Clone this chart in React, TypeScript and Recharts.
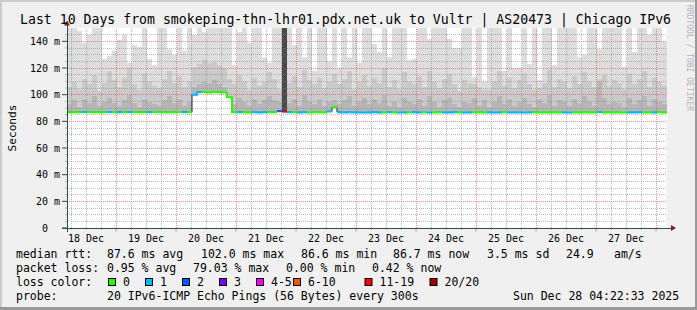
import React from 'react';
import { ComposedChart, Area, Line, XAxis, YAxis, ReferenceLine, ReferenceDot } from 'recharts';

const FONT = '"DejaVu Sans Mono", monospace';

// window starts Dec 18 04:22:33, x is hours since then
const START_HOUR = 4 + 22.55 / 60;
const BUCKET_HOURS = 2;
const SPAN_HOURS = 240;

const DAY_LABELS = ['18 Dec', '19 Dec', '20 Dec', '21 Dec', '22 Dec', '23 Dec', '24 Dec', '25 Dec', '26 Dec', '27 Dec'];
const Y_TICKS = [0, 20, 40, 60, 80, 100, 120, 140];

// median rtt per 2h bucket (ms)
const MEDIAN = [
  86.9, 86.8, 86.9, 87.0, 86.9, 86.8, 86.9, 86.9, 87.0, 86.8,
  86.9, 86.9, 87.0, 86.8, 86.9, 86.9, 86.8, 87.0, 86.9, 86.9,
  86.8, 86.9, 87.0, 86.9, 86.8, 100.0, 101.8, 102.0, 101.7, 102.0,
  101.9, 101.6, 98.0, 86.8, 86.9, 86.8, 86.7, 86.8, 86.7, 86.8,
  86.9, 86.8, 87.6, 87.3, 86.9, 86.8, 86.7, 86.8, 86.7, 86.8,
  86.8, 86.7, 87.4, 90.5, 86.9, 86.7, 86.8, 86.7, 86.7, 86.6,
  86.7, 86.8, 86.7, 86.7, 86.8, 86.7, 86.6, 86.7, 86.7, 86.8,
  86.7, 86.7, 86.6, 86.7, 86.8, 86.7, 86.7, 86.8, 86.7, 86.6,
  86.7, 86.7, 86.8, 86.7, 86.7, 86.6, 86.7, 86.8, 86.7, 86.7,
  86.7, 86.6, 86.7, 86.8, 86.7, 86.7, 86.7, 86.8, 86.7, 86.7,
  86.6, 86.7, 86.7, 86.8, 86.7, 86.7, 87.0, 86.7, 86.8, 86.7,
  86.7, 86.6, 86.7, 86.7, 86.8, 86.7, 86.7, 86.7, 86.8, 86.7,
];

// loss class index per bucket (see LOSS_LABELS)
const LOSS = [
  0, 0, 0, 1, 0, 0, 0, 0, 1, 0,
  1, 0, 1, 0, 0, 0, 1, 0, 0, 0,
  0, 0, 0, 1, 0, 1, 1, 0, 0, 0,
  0, 0, 0, 0, 1, 0, 0, 1, 1, 1,
  0, 0, 2, 6, 1, 0, 1, 1, 0, 0,
  0, 0, 1, 0, 1, 1, 1, 1, 1, 1,
  1, 1, 1, 0, 1, 0, 1, 1, 0, 1,
  1, 0, 1, 0, 0, 1, 1, 1, 0, 1,
  1, 0, 0, 0, 1, 1, 1, 0, 1, 1,
  1, 1, 1, 0, 0, 0, 0, 0, 0, 1,
  1, 0, 0, 0, 0, 0, 1, 0, 0, 0,
  0, 0, 1, 1, 1, 0, 0, 1, 0, 0,
];

// smoke levels (ms): dark band, mid band, lightest band (max ping)
const SMOKE_DARK = [
  93, 96, 91, 97, 94, 99, 92, 95, 98, 94,
  92, 96, 100, 94, 91, 97, 95, 93, 92, 96,
  99, 94, 97, 92, 95, 106, 108, 110, 109, 111,
  108, 106, 97, 93, 98, 95, 92, 97, 93, 96,
  99, 96, 95, 150, 94, 97, 92, 100, 95, 93,
  97, 92, 95, 96, 93, 96, 99, 92, 95, 98,
  93, 97, 94, 100, 92, 95, 91, 98, 95, 93,
  97, 92, 99, 95, 91, 96, 98, 93, 91, 95,
  94, 98, 92, 96, 91, 95, 99, 93, 97, 92,
  95, 98, 93, 91, 97, 94, 100, 92, 96, 95,
  92, 97, 94, 99, 95, 92, 110, 98, 93, 95,
  94, 91, 98, 93, 96, 99, 92, 97, 95, 93,
];

const SMOKE_MID = [
  106, 110, 104, 112, 108, 115, 103, 109, 118, 111,
  106, 113, 120, 108, 104, 116, 110, 107, 105, 112,
  118, 109, 114, 106, 110, 121, 123, 126, 124, 125,
  122, 120, 112, 108, 115, 110, 104, 113, 107, 110,
  117, 112, 104, 150, 109, 114, 106, 119, 111, 108,
  113, 105, 110, 116, 108, 112, 118, 104, 110, 115,
  107, 113, 109, 120, 106, 111, 104, 117, 110, 108,
  114, 106, 118, 110, 105, 112, 116, 108, 103, 111,
  109, 108, 106, 104, 104, 110, 118, 107, 113, 105,
  111, 116, 108, 104, 105, 109, 119, 106, 112, 110,
  105, 114, 108, 117, 110, 106, 112, 115, 107, 111,
  109, 104, 116, 108, 112, 118, 106, 113, 110, 107,
];

const SMOKE_TOP = [
  150, 150, 148, 139, 145, 150, 150, 127, 129, 133,
  141, 145, 124, 137, 136, 150, 127, 122, 150, 150,
  134, 130, 150, 133, 150, 145, 150, 147, 150, 150,
  150, 150, 150, 122, 147, 150, 139, 150, 150, 128,
  124, 150, 150, 150, 150, 137, 150, 128, 150, 118,
  150, 150, 125, 150, 120, 150, 128, 150, 124, 150,
  150, 138, 132, 150, 128, 150, 150, 150, 126, 127,
  150, 150, 142, 150, 150, 150, 142, 135, 135, 150,
  150, 113, 150, 110, 150, 150, 150, 118, 150, 120,
  120, 150, 123, 150, 111, 150, 150, 122, 150, 150,
  150, 150, 128, 130, 150, 150, 134, 150, 150, 150,
  150, 121, 150, 132, 150, 150, 145, 150, 150, 140,
];

// bucket where few replies came back: dark smoke right up the graph
const HEAVY_LOSS_SMOKE = [{ bucket: 43, top: 150 }];

const LOSS_LABELS = ['0', '1', '2', '3', '4-5', '6-10', '11-19', '20/20'];
const LOSS_COLORS = ['#26ff00', '#00b8ff', '#0059ff', '#7e00ff', '#ff00ff', '#ff5500', '#ff0000', '#a00000'];

const RTT_STATS = ['87.6 ms avg', '102.0 ms max', '86.6 ms min', '86.7 ms now', '3.5 ms sd', '24.9', 'am/s'];
const LOSS_STATS = ['0.95 % avg', '79.03 % max', '0.00 % min', '0.42 % now'];

// text layout (px)
const RTT_X = [107, 201, 301, 393, 487, 566, 614];
const LOSS_X = [107, 193, 286, 372];
const SWATCH_X = [108.5, 145.5, 182.5, 219.5, 256.5, 293.5, 365, 430];

const labelHours = DAY_LABELS.map((_, k) => 12 + 24 * k - START_HOUR);
const midnights: number[] = [];
for (let k = 1; 24 * k - START_HOUR < SPAN_HOURS; k++) midnights.push(24 * k - START_HOUR);
const sixHours: number[] = [];
for (let k = 1; 6 * k - START_HOUR < SPAN_HOURS; k++) if (k % 4 !== 0) sixHours.push(6 * k - START_HOUR);
const minorY: number[] = [];
for (let v = 5; v < 150; v += 5) if (v % 20 !== 0) minorY.push(v);
const majorY = Y_TICKS.filter((v) => v > 0);

// runs of equal loss class; alternate runs go to separate series so that
// a one-bucket gap between two runs of the same class is not bridged
const runSlot: number[] = [];
{
  const seen: Record<number, number> = {};
  LOSS.forEach((c, i) => {
    if (i === 0 || LOSS[i - 1] !== c) seen[c] = (seen[c] ?? -1) + 1;
    runSlot[i] = seen[c] % 2;
  });
}
const lossKeys: { key: string; color: string }[] = [];
LOSS_COLORS.forEach((color, c) => [0, 1].forEach((s) => lossKeys.push({ key: `loss${c}_${s}`, color })));

const chartData = Array.from({ length: MEDIAN.length + 1 }, (_, i) => {
  const j = Math.min(i, MEDIAN.length - 1);
  const med = MEDIAN[j];
  const heavy = HEAVY_LOSS_SMOKE.find((h) => h.bucket === j);
  const l1 = heavy ? heavy.top : med;
  const top = Math.min(Math.max(SMOKE_TOP[j], l1), 150);
  const mid = Math.min(Math.max(SMOKE_MID[j], l1), top);
  const dark = Math.min(Math.max(SMOKE_DARK[j], l1), mid);
  const row: any = {
    x: i * BUCKET_HOURS,
    median: med,
    base: med,
    heavy: l1 - med,
    dark: dark - l1,
    mid: mid - dark,
    light: top - mid,
  };
  lossKeys.forEach(({ key }) => (row[key] = null));
  if (i < LOSS.length) row[`loss${LOSS[i]}_${runSlot[i]}`] = MEDIAN[i];
  if (i > 0 && LOSS[i - 1] !== LOSS[i]) row[`loss${LOSS[i - 1]}_${runSlot[i - 1]}`] = MEDIAN[i - 1];
  return row;
});

const AXIS = '#2c4d43';
const ARROW = '#8b1a1a';
const MINOR = 'rgba(140,140,140,0.6)';
const MAJOR = 'rgba(220,70,70,0.6)';

const XTick = (props: any) => (
  <text x={props.x} y={241.5} textAnchor="middle" fontFamily={FONT} fontSize={10} fill="#000">
    {DAY_LABELS[props.index]}
  </text>
);

const YTick = (props: any) => {
  const v = props.payload.value;
  return (
    <text x={v === 0 ? 48 : 60} y={props.y} dy={3.6} textAnchor="end" fontFamily={FONT} fontSize={10} fill="#000">
      {v === 0 ? '0' : `${v} m`}
    </text>
  );
};

const SmokePing = () => (
  <ComposedChart width={697} height={310} data={chartData} margin={{ top: 28, right: 30, bottom: 0, left: 0 }}>
    <XAxis
      dataKey="x"
      type="number"
      domain={[0, SPAN_HOURS]}
      allowDataOverflow
      ticks={labelHours}
      interval={0}
      height={82}
      axisLine={false}
      tickLine={false}
      tick={(p: any) => <XTick {...p} />}
    />
    <YAxis
      type="number"
      domain={[0, 150]}
      allowDataOverflow
      ticks={Y_TICKS}
      interval={0}
      width={67}
      axisLine={false}
      tickLine={false}
      tick={(p: any) => <YTick {...p} />}
    />

    <Area type="stepAfter" dataKey="base" stackId="s" stroke="none" fill="none" isAnimationActive={false} />
    <Area type="stepAfter" dataKey="heavy" stackId="s" stroke="none" fill="#4a4a4a" fillOpacity={1} isAnimationActive={false} />
    <Area type="stepAfter" dataKey="dark" stackId="s" stroke="none" fill="#b6b6b6" fillOpacity={1} isAnimationActive={false} />
    <Area type="stepAfter" dataKey="mid" stackId="s" stroke="none" fill="#cacaca" fillOpacity={1} isAnimationActive={false} />
    <Area type="stepAfter" dataKey="light" stackId="s" stroke="none" fill="#dddddd" fillOpacity={1} isAnimationActive={false} />

    {minorY.map((v) => (
      <ReferenceLine key={`hy${v}`} y={v} stroke={MINOR} strokeDasharray="1 1" shapeRendering="crispEdges" />
    ))}
    {majorY.map((v) => (
      <ReferenceLine key={`my${v}`} y={v} stroke={MAJOR} strokeDasharray="1 1" shapeRendering="crispEdges" />
    ))}
    {sixHours.map((h) => (
      <ReferenceLine key={`vx${h}`} x={h} stroke={MINOR} strokeDasharray="1 1" shapeRendering="crispEdges" />
    ))}
    {midnights.map((h) => (
      <ReferenceLine key={`mx${h}`} x={h} stroke={MAJOR} strokeDasharray="1 1" shapeRendering="crispEdges" />
    ))}

    <Line type="stepAfter" dataKey="median" stroke="#202020" strokeWidth={1} dot={false} isAnimationActive={false} />
    {lossKeys.map(({ key, color }) => (
      <Line
        key={key}
        type="stepAfter"
        dataKey={key}
        stroke={color}
        strokeWidth={2}
        dot={false}
        connectNulls={false}
        isAnimationActive={false}
      />
    ))}

    {/* axes, ticks and arrows */}
    {midnights.map((h) => (
      <ReferenceLine key={`tm${h}`} segment={[{ x: h, y: 0 }, { x: h, y: -2.6 }]} ifOverflow="visible" stroke={MAJOR} />
    ))}
    {sixHours.map((h) => (
      <ReferenceLine key={`ts${h}`} segment={[{ x: h, y: 0 }, { x: h, y: -1.5 }]} ifOverflow="visible" stroke={MINOR} />
    ))}
    {minorY.map((v) => (
      <ReferenceLine key={`ty${v}`} segment={[{ x: -0.8, y: v }, { x: 0, y: v }]} ifOverflow="visible" stroke={MINOR} />
    ))}
    {Y_TICKS.map((v) => (
      <ReferenceLine key={`tY${v}`} segment={[{ x: -2, y: v }, { x: 0, y: v }]} ifOverflow="visible" stroke={AXIS} />
    ))}
    <ReferenceLine segment={[{ x: -2, y: 0 }, { x: 242, y: 0 }]} ifOverflow="visible" stroke={AXIS} shapeRendering="crispEdges" />
    <ReferenceLine segment={[{ x: 0, y: -3 }, { x: 0, y: 154 }]} ifOverflow="visible" stroke={AXIS} shapeRendering="crispEdges" />
    <ReferenceDot
      x={242.6}
      y={0}
      r={3}
      ifOverflow="visible"
      shape={(p: any) => (
        <path d={`M${p.cx - 2.5},${p.cy - 3}L${p.cx + 2.5},${p.cy}L${p.cx - 2.5},${p.cy + 3}Z`} fill={ARROW} />
      )}
    />
    <ReferenceDot
      x={0}
      y={153.75}
      r={3}
      ifOverflow="visible"
      shape={(p: any) => (
        <path d={`M${p.cx - 3},${p.cy + 2.5}L${p.cx},${p.cy - 2.5}L${p.cx + 3},${p.cy + 2.5}Z`} fill={ARROW} />
      )}
    />
  </ComposedChart>
);

const Texts = () => (
  <svg width={697} height={310} style={{ position: 'absolute', left: 0, top: 0, pointerEvents: 'none' }}>
    <rect x={0} y={0} width={697} height={2} fill="#cbcbcb" />
    <rect x={0} y={0} width={2} height={310} fill="#cbcbcb" />
    <rect x={695} y={0} width={2} height={310} fill="#999999" />
    <rect x={0} y={307} width={697} height={3} fill="#999999" />

    <text x={20} y={24} fontFamily={FONT} fontSize={13.2} fill="#000">
      Last 10 Days from smokeping-thn-lhr01.pdx.net.uk to Vultr | AS20473 | Chicago IPv6
    </text>
    <text
      transform="translate(15.5,128) rotate(-90)"
      textAnchor="middle"
      fontFamily={FONT}
      fontSize={11.2}
      fill="#000"
    >
      Seconds
    </text>
    <text transform="translate(686.5,5) rotate(90)" fontFamily={FONT} fontSize={8} fill="#b4b4b4">
      RRDTOOL / TOBI OETIKER
    </text>

    <g fontFamily={FONT} fontSize={11.5} fill="#000">
      <text x={16} y={258}>median rtt:</text>
      {RTT_STATS.map((s, k) => (
        <text key={s} x={RTT_X[k]} y={258}>{s}</text>
      ))}
      <text x={16} y={272}>packet loss:</text>
      {LOSS_STATS.map((s, k) => (
        <text key={s} x={LOSS_X[k]} y={272}>{s}</text>
      ))}
      <text x={16} y={286}>loss color:</text>
      {LOSS_LABELS.map((s, k) => (
        <g key={s}>
          <rect x={SWATCH_X[k]} y={278.5} width={7} height={7} fill={LOSS_COLORS[k]} stroke="#000" strokeWidth={1} />
          <text x={SWATCH_X[k] + 14.5} y={286}>{s}</text>
        </g>
      ))}
      <text x={16} y={300}>probe:</text>
      <text x={107} y={300}>20 IPv6-ICMP Echo Pings (56 Bytes) every 300s</text>
      <text x={513} y={300}>Sun Dec 28 04:22:33 2025</text>
    </g>
  </svg>
);

export default function App() {
  return (
    <div style={{ position: 'absolute', left: 0, top: 0, width: 697, height: 310, background: '#f0f0f0', overflow: 'hidden' }}>
      <div style={{ position: 'absolute', left: 67, top: 28, width: 600, height: 200, background: '#ffffff' }} />
      <div style={{ position: 'absolute', left: 0, top: 0 }}>
        <SmokePing />
      </div>
      <Texts />
    </div>
  );
}
